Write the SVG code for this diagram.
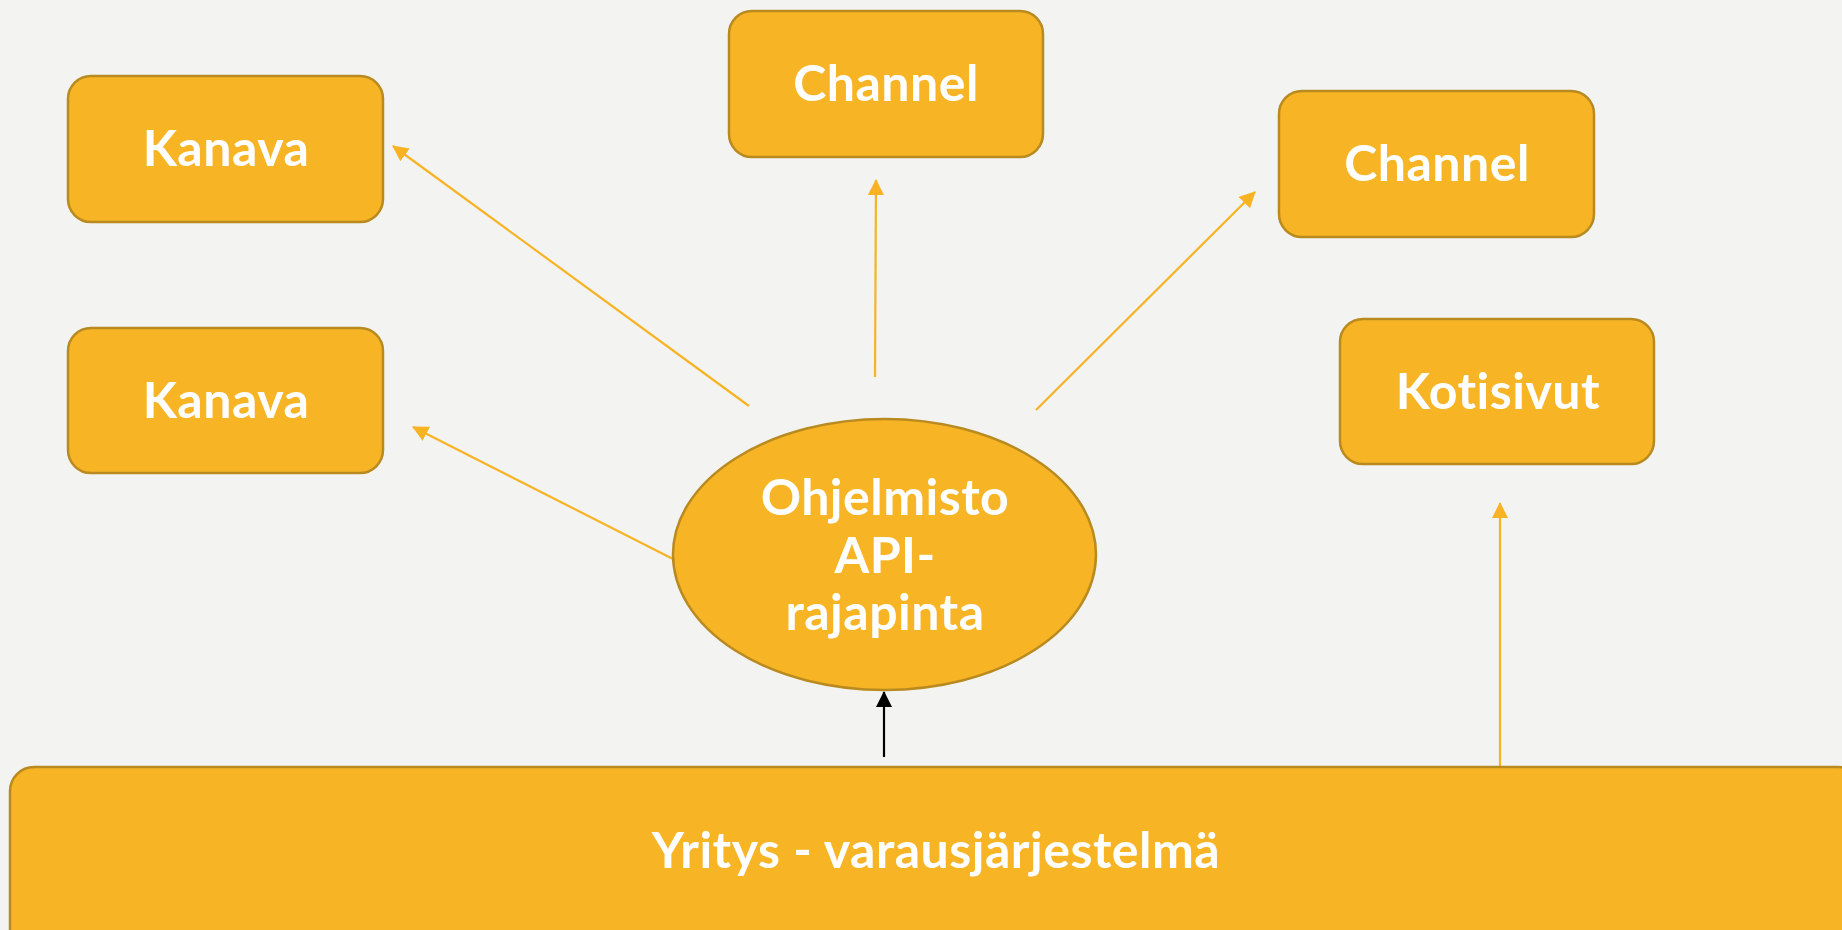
<svg xmlns="http://www.w3.org/2000/svg" width="1842" height="930" viewBox="0 0 1842 930">
<style>
.box{fill:#F7B425;stroke:#B98A1F;stroke-width:2.5}
.lbl{font-family:Lato,"Open Sans","Liberation Sans",sans-serif;font-weight:bold;font-size:50px;letter-spacing:0.5px;font-variant-ligatures:none;fill:#FFFFFF;text-anchor:middle}
.conn{stroke:#F7B324;stroke-width:2.2;fill:none;marker-end:url(#ao)}
.connk{stroke:#000000;stroke-width:2.2;fill:none;marker-end:url(#ak)}
</style>
<defs>
<marker id="ao" markerUnits="userSpaceOnUse" markerWidth="16" markerHeight="16" refX="15" refY="8" orient="auto">
<path d="M0,0 L16,8 L0,16 z" fill="#F7B324"/>
</marker>
<marker id="ak" markerUnits="userSpaceOnUse" markerWidth="16" markerHeight="16" refX="15" refY="8" orient="auto">
<path d="M0,0 L16,8 L0,16 z" fill="#000000"/>
</marker>
</defs>
<rect x="0" y="0" width="1842" height="930" fill="#F3F3F1"/>
<g id="connectors">
<line class="conn" x1="749" y1="406" x2="393" y2="146"/>
<line class="conn" x1="875" y1="377" x2="876" y2="180"/>
<line class="conn" x1="1036" y1="410" x2="1255" y2="192"/>
<line class="conn" x1="673" y1="559" x2="413" y2="427"/>
<line class="connk" x1="884" y1="757" x2="884" y2="692"/>
<line class="conn" x1="1500" y1="768" x2="1500" y2="503"/>
</g>
<g id="kanava1">
<rect class="box" x="68" y="76" width="315" height="146" rx="23"/>
<text class="lbl" x="226" y="166">Kanava</text>
</g>
<g id="channel1">
<rect class="box" x="729" y="11" width="314" height="146" rx="23"/>
<text class="lbl" x="886" y="101">Channel</text>
</g>
<g id="channel2">
<rect class="box" x="1279" y="91" width="315" height="146" rx="23"/>
<text class="lbl" x="1437" y="181">Channel</text>
</g>
<g id="kanava2">
<rect class="box" x="68" y="328" width="315" height="145" rx="23"/>
<text class="lbl" x="226" y="418">Kanava</text>
</g>
<g id="kotisivut">
<rect class="box" x="1340" y="319" width="314" height="145" rx="23"/>
<text class="lbl" x="1498" y="409">Kotisivut</text>
</g>
<g id="api">
<ellipse class="box" cx="884.5" cy="554.5" rx="211.5" ry="135.5"/>
<text class="lbl" x="885" y="515">Ohjelmisto</text>
<text class="lbl" x="885" y="573">API-</text>
<text class="lbl" x="885" y="630">rajapinta</text>
</g>
<g id="yritys">
<rect class="box" x="10" y="767" width="1852" height="250" rx="24"/>
<text class="lbl" x="936" y="868">Yritys - varausjärjestelmä</text>
</g>
</svg>
